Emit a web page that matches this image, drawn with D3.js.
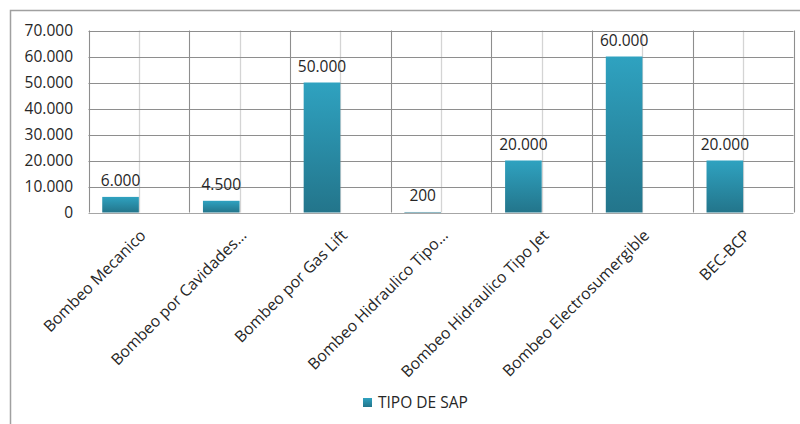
<!DOCTYPE html>
<html>
<head>
<meta charset="utf-8">
<script src="https://cdn.jsdelivr.net/npm/d3@7"></script>
<style>
html,body{margin:0;padding:0;background:#fff;}
svg{display:block;}
</style>
</head>
<body>
<svg id="chart" width="800" height="424"></svg>
<script>
const categories = ["Bombeo Mecanico","Bombeo por Cavidades…","Bombeo por Gas Lift","Bombeo Hidraulico Tipo…","Bombeo Hidraulico Tipo Jet","Bombeo Electrosumergible","BEC-BCP"];
const values = [6000, 4500, 50000, 200, 20000, 60000, 20000];
const yTicks = [0, 10000, 20000, 30000, 40000, 50000, 60000, 70000];
const seriesName = "TIPO DE SAP";

const svg = d3.select("#chart");
const font = "Open Sans, sans-serif";
const textColor = "#262626";
const m = {left: 88.5, right: 793.5, top: 30.5, bottom: 212.5};

// outer chart border
svg.append("rect").attr("x", 10.5).attr("y", 10.5).attr("width", 800).attr("height", 430)
  .attr("fill", "none").attr("stroke", "#a0a0a0").attr("stroke-width", 1.5);

const x = d3.scaleBand().domain(categories).range([m.left, m.right]).padding(0);
const inner = d3.scaleBand().domain(["s1","s2"]).range([0, x.bandwidth()]).paddingInner(0).paddingOuter(0.375);
const y = d3.scaleLinear().domain([0, 70000]).range([m.bottom, m.top]);

const defs = svg.append("defs");
const grad = defs.append("linearGradient").attr("id","barGrad").attr("x1",0).attr("y1",0).attr("x2",0).attr("y2",1);
grad.append("stop").attr("offset","0%").attr("stop-color","#2fa2c0");
grad.append("stop").attr("offset","100%").attr("stop-color","#23758b");

// minor vertical gridlines (category centers)
svg.append("g").selectAll("line").data(categories).join("line")
  .attr("x1", d => Math.round(x(d) + x.bandwidth()/2) + 0.5)
  .attr("x2", d => Math.round(x(d) + x.bandwidth()/2) + 0.5)
  .attr("y1", m.top).attr("y2", m.bottom)
  .attr("stroke", "#d4d4d4").attr("stroke-width", 1.3);

// major vertical gridlines (category boundaries)
const bounds = categories.map(d => x(d)).concat([m.right]);
svg.append("g").selectAll("line").data(bounds).join("line")
  .attr("x1", d => Math.round(d) + 0.5).attr("x2", d => Math.round(d) + 0.5)
  .attr("y1", m.top).attr("y2", m.bottom)
  .attr("stroke", "#8e8e8e").attr("stroke-width", 1.1);

// horizontal gridlines
svg.append("g").selectAll("line").data(yTicks).join("line")
  .attr("x1", m.left).attr("x2", m.right)
  .attr("y1", d => Math.round(y(d)) + 0.5).attr("y2", d => Math.round(y(d)) + 0.5)
  .attr("stroke", d => d === 0 ? "#a6a6a6" : "#8e8e8e").attr("stroke-width", 1.1);

// y axis labels
const fmt = v => v === 0 ? "0" : d3.format(",")(v).replace(/,/g, ".");
const yAxis = d3.axisLeft(y).tickValues(yTicks).tickFormat(fmt).tickSize(0).tickPadding(0);
const gy = svg.append("g").attr("transform", `translate(73,0)`).call(yAxis);
gy.select(".domain").remove();
gy.selectAll("text").attr("font-family", font).attr("font-size", 15.5).attr("fill", textColor).attr("dy", "0.35em");

// bars
svg.append("g").selectAll("rect").data(values).join("rect")
  .attr("x", (d,i) => x(categories[i]) + inner("s1"))
  .attr("width", inner.bandwidth())
  .attr("y", d => y(d))
  .attr("height", d => y(0) - y(d))
  .attr("fill", "url(#barGrad)");

// value labels
svg.append("g").selectAll("text").data(values).join("text")
  .attr("x", (d,i) => x(categories[i]) + inner("s1") + inner.bandwidth()/2)
  .attr("y", d => y(d) - 11)
  .attr("text-anchor", "middle")
  .attr("font-family", font).attr("font-size", 15.5).attr("fill", textColor)
  .text(d => fmt(d));

// category labels rotated
svg.append("g").selectAll("text").data(categories).join("text")
  .attr("transform", d => `translate(${x(d) + x.bandwidth()/2 + 4},${m.bottom + 20}) rotate(-45)`)
  .attr("text-anchor", "end")
  .attr("dy", "0.35em")
  .attr("font-family", font).attr("font-size", 15.8).attr("fill", textColor)
  .text(d => d);

// legend
const lg = svg.append("g").attr("transform", "translate(363,398)");
lg.append("rect").attr("width", 9).attr("height", 9).attr("fill", "url(#barGrad)");
lg.append("text").attr("x", 15).attr("y", 4.5).attr("dy", "0.35em")
  .attr("font-family", font).attr("font-size", 15.5).attr("fill", textColor).text(seriesName);
</script>
</body>
</html>
